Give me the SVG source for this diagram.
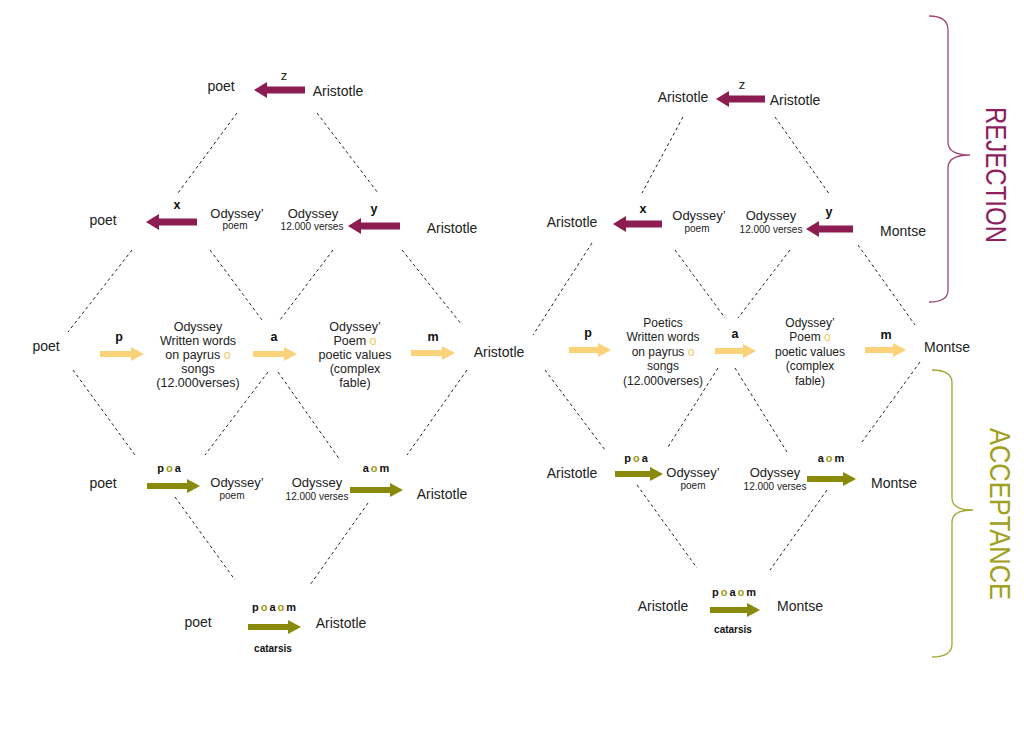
<svg xmlns="http://www.w3.org/2000/svg" width="1024" height="729" viewBox="0 0 1024 729">
<defs>
<style>
text{font-family:"Liberation Sans",Arial,sans-serif;fill:#222;}
.n{font-size:14px;text-anchor:middle;}
.t{font-size:13px;text-anchor:middle;}
.b1{font-size:12.5px;text-anchor:middle;}
.b2{font-size:12px;text-anchor:middle;}
.s{font-size:10px;text-anchor:middle;}
.l{font-size:12.5px;font-weight:bold;text-anchor:middle;fill:#111;}
.z{font-size:13px;text-anchor:middle;}
.c{font-size:10px;font-weight:bold;text-anchor:middle;fill:#111;}
.k{font-size:11px;font-weight:bold;text-anchor:middle;letter-spacing:2px;fill:#111;}
.yo{fill:#F2C75C;}
.oo{fill:#9C9A12;}
.d{stroke:#222;stroke-width:1;stroke-dasharray:3 3;fill:none;}
.am{stroke:#8C1D52;stroke-width:7;marker-end:url(#hm);}
.ay{stroke:#FAD27A;stroke-width:6;marker-end:url(#hy);}
.ao{stroke:#8A8A0A;stroke-width:6;marker-end:url(#ho);}
</style>
<marker id="hm" markerUnits="userSpaceOnUse" markerWidth="13" markerHeight="16" refX="1" refY="8" orient="auto"><path d="M0,0 L13,8 L0,16z" fill="#8C1D52"/></marker>
<marker id="hy" markerUnits="userSpaceOnUse" markerWidth="13" markerHeight="14" refX="1" refY="7" orient="auto"><path d="M0,0 L13,7 L0,14z" fill="#FAD27A"/></marker>
<marker id="ho" markerUnits="userSpaceOnUse" markerWidth="13" markerHeight="14" refX="1" refY="7" orient="auto"><path d="M0,0 L13,7 L0,14z" fill="#8A8A0A"/></marker>
</defs>
<rect width="1024" height="729" fill="#fff"/>

<g id="connectors">
<!-- left diamond dashed -->
<path class="d" d="M237,113 L178,193"/>
<path class="d" d="M317,113 L378,193"/>
<path class="d" d="M132,250 L68,332"/>
<path class="d" d="M210,250 L262,320"/>
<path class="d" d="M333,250 L280,320"/>
<path class="d" d="M402,250 L462,325"/>
<path class="d" d="M73,370 L135,455"/>
<path class="d" d="M268,372 L205,455"/>
<path class="d" d="M278,372 L340,460"/>
<path class="d" d="M467,370 L407,455"/>
<path class="d" d="M175,497 L235,580"/>
<path class="d" d="M368,503 L310,585"/>
<!-- right diamond dashed -->
<path class="d" d="M683,117 L642,193"/>
<path class="d" d="M775,117 L830,195"/>
<path class="d" d="M592,243 L533,335"/>
<path class="d" d="M675,250 L725,318"/>
<path class="d" d="M790,250 L738,318"/>
<path class="d" d="M858,245 L915,325"/>
<path class="d" d="M545,370 L605,450"/>
<path class="d" d="M718,368 L668,447"/>
<path class="d" d="M735,368 L787,452"/>
<path class="d" d="M920,362 L862,442"/>
<path class="d" d="M637,485 L697,568"/>
<path class="d" d="M827,490 L770,570"/>
<!-- arrows left -->
<line class="am" x1="305" y1="90" x2="266" y2="90"/>
<line class="am" x1="197" y1="222" x2="158" y2="222"/>
<line class="am" x1="400" y1="226" x2="360" y2="226"/>
<line class="ay" x1="100" y1="354" x2="132" y2="354"/>
<line class="ay" x1="253" y1="354" x2="285" y2="354"/>
<line class="ay" x1="411" y1="353" x2="443" y2="353"/>
<line class="ao" x1="147" y1="486" x2="188" y2="486"/>
<line class="ao" x1="350" y1="490" x2="391" y2="490"/>
<line class="ao" x1="248" y1="627" x2="289" y2="627"/>
<!-- arrows right -->
<line class="am" x1="765" y1="99" x2="728" y2="99"/>
<line class="am" x1="662" y1="224" x2="625" y2="224"/>
<line class="am" x1="853" y1="229" x2="818" y2="229"/>
<line class="ay" x1="569" y1="350" x2="599" y2="350"/>
<line class="ay" x1="715" y1="351" x2="744" y2="351"/>
<line class="ay" x1="865" y1="350" x2="894" y2="350"/>
<line class="ao" x1="615" y1="474" x2="651" y2="474"/>
<line class="ao" x1="807" y1="479" x2="844" y2="479"/>
<line class="ao" x1="710" y1="610" x2="748" y2="610"/>
</g>

<g id="left-row1">
<text class="n" x="221" y="91">poet</text>
<text class="z" x="284" y="80">z</text>
<text class="n" x="338" y="96">Aristotle</text>
</g>
<g id="left-row2">
<text class="n" x="103" y="225">poet</text>
<text class="l" x="177" y="209">x</text>
<text class="t" x="237" y="218">Odyssey’</text>
<text class="s" x="235" y="229">poem</text>
<text class="t" x="313" y="218">Odyssey</text>
<text class="s" x="312" y="230">12.000 verses</text>
<text class="l" x="374" y="213">y</text>
<text class="n" x="452" y="233">Aristotle</text>
</g>
<g id="left-row3">
<text class="n" x="46" y="351">poet</text>
<text class="l" x="119" y="341">p</text>
<text class="b1" x="198"><tspan x="198" y="331">Odyssey</tspan><tspan x="198" y="345">Written words</tspan><tspan x="198" y="359">on payrus <tspan class="yo">o</tspan></tspan><tspan x="198" y="373">songs</tspan><tspan x="198" y="387">(12.000verses)</tspan></text>
<text class="l" x="274" y="341">a</text>
<text class="b1" x="355"><tspan x="355" y="331">Odyssey’</tspan><tspan x="355" y="345">Poem <tspan class="yo">o</tspan></tspan><tspan x="355" y="359">poetic values</tspan><tspan x="355" y="373">(complex</tspan><tspan x="355" y="387">fable)</tspan></text>
<text class="l" x="433" y="341">m</text>
<text class="n" x="499" y="357">Aristotle</text>
</g>
<g id="left-row4">
<text class="n" x="103" y="488">poet</text>
<text class="k" x="170" y="472">p<tspan class="oo">o</tspan>a</text>
<text class="t" x="237" y="487">Odyssey’</text>
<text class="s" x="232" y="499">poem</text>
<text class="t" x="317" y="487">Odyssey</text>
<text class="s" x="317" y="500">12.000 verses</text>
<text class="k" x="377" y="472">a<tspan class="oo">o</tspan>m</text>
<text class="n" x="442" y="499">Aristotle</text>
</g>
<g id="left-row5">
<text class="n" x="198" y="627">poet</text>
<text class="k" x="275" y="611">p<tspan class="oo">o</tspan>a<tspan class="oo">o</tspan>m</text>
<text class="c" x="273" y="652">catarsis</text>
<text class="n" x="341" y="628">Aristotle</text>
</g>

<g id="right-row1">
<text class="n" x="683" y="102">Aristotle</text>
<text class="z" x="742" y="89">z</text>
<text class="n" x="795" y="105">Aristotle</text>
</g>
<g id="right-row2">
<text class="n" x="572" y="227">Aristotle</text>
<text class="l" x="643" y="213">x</text>
<text class="t" x="699" y="220">Odyssey’</text>
<text class="s" x="697" y="232">poem</text>
<text class="t" x="771" y="220">Odyssey</text>
<text class="s" x="771" y="233">12.000 verses</text>
<text class="l" x="829" y="216">y</text>
<text class="n" x="903" y="236">Montse</text>
</g>
<g id="right-row3">
<text class="l" x="588" y="337">p</text>
<text class="b2" x="663"><tspan x="663" y="327">Poetics</tspan><tspan x="663" y="341">Written words</tspan><tspan x="663" y="356">on payrus <tspan class="yo">o</tspan></tspan><tspan x="663" y="370">songs</tspan><tspan x="663" y="385">(12.000verses)</tspan></text>
<text class="l" x="735" y="338">a</text>
<text class="b2" x="810"><tspan x="810" y="327">Odyssey’</tspan><tspan x="810" y="341">Poem <tspan class="yo">o</tspan></tspan><tspan x="810" y="356">poetic values</tspan><tspan x="810" y="370">(complex</tspan><tspan x="810" y="385">fable)</tspan></text>
<text class="l" x="886" y="339">m</text>
<text class="n" x="947" y="352">Montse</text>
</g>
<g id="right-row4">
<text class="n" x="572" y="478">Aristotle</text>
<text class="k" x="637" y="462">p<tspan class="oo">o</tspan>a</text>
<text class="t" x="693" y="477">Odyssey’</text>
<text class="s" x="693" y="489">poem</text>
<text class="t" x="775" y="477">Odyssey</text>
<text class="s" x="775" y="490">12.000 verses</text>
<text class="k" x="832" y="462">a<tspan class="oo">o</tspan>m</text>
<text class="n" x="894" y="488">Montse</text>
</g>
<g id="right-row5">
<text class="n" x="663" y="611">Aristotle</text>
<text class="k" x="735" y="596">p<tspan class="oo">o</tspan>a<tspan class="oo">o</tspan>m</text>
<text class="c" x="733" y="633">catarsis</text>
<text class="n" x="800" y="611">Montse</text>
</g>

<g id="rejection">
<path d="M929,16 Q948,16 948,30 L948,142 Q948,155 970,155 Q948,155 948,168 L948,290 Q948,302 929,302" fill="none" stroke="#A0487A" stroke-width="1.3"/>
<text transform="translate(986,175) rotate(90)" x="0" y="0" font-size="29" text-anchor="middle" textLength="136" lengthAdjust="spacingAndGlyphs" style="fill:#8E1F5E">REJECTION</text>
</g>
<g id="acceptance">
<path d="M932,370 Q952,370 952,383 L952,498 Q952,510 973,510 Q952,510 952,522 L952,644 Q952,657 932,657" fill="none" stroke="#A6A636" stroke-width="1.3"/>
<text transform="translate(990,514) rotate(90)" x="0" y="0" font-size="29" text-anchor="middle" textLength="172" lengthAdjust="spacingAndGlyphs" style="fill:#A0A022">ACCEPTANCE</text>
</g>
</svg>
